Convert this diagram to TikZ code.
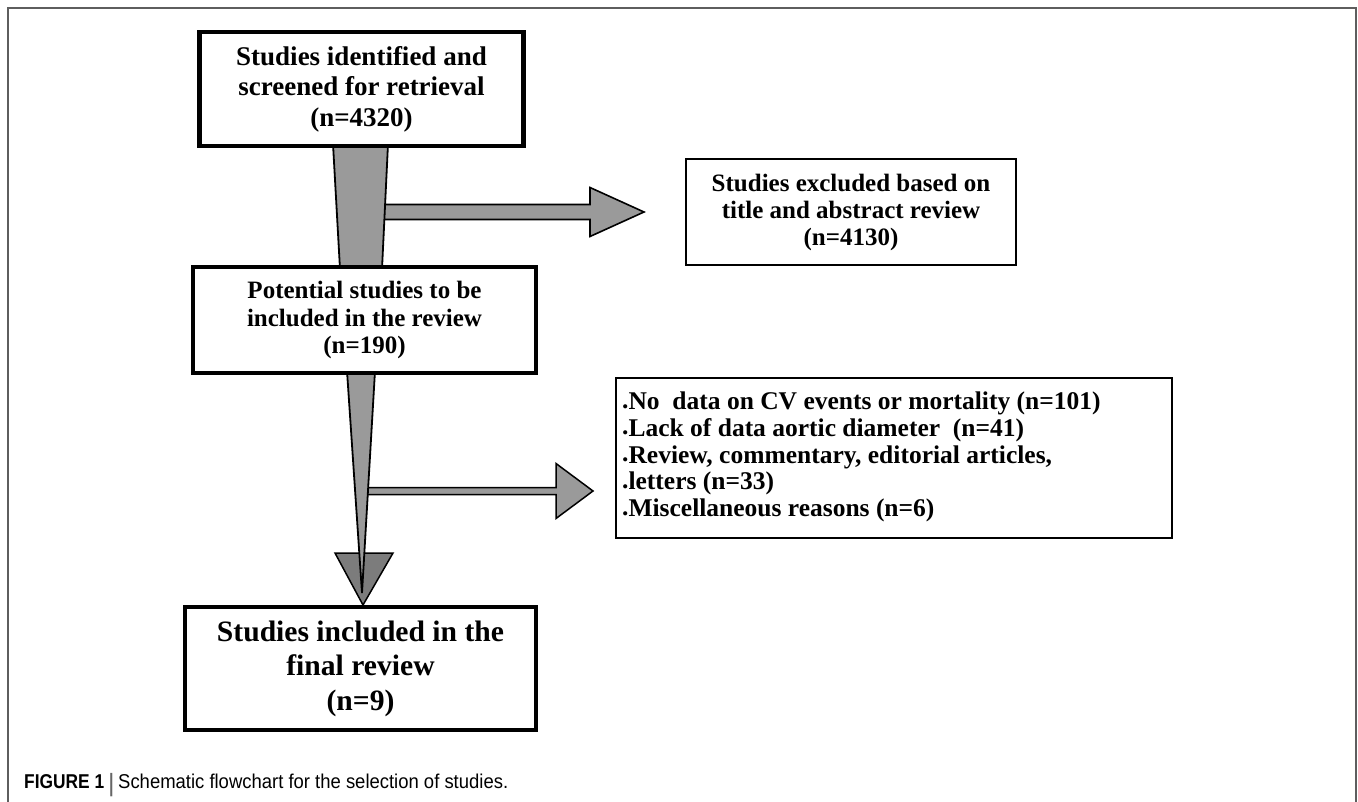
\documentclass[tikz,border=0pt]{standalone}
\usepackage{fontspec}
\setmainfont{Liberation Serif}
\newfontfamily\capfont{Liberation Sans}
\usetikzlibrary{calc}
\definecolor{arrowgray}{HTML}{9A9A9A}
\definecolor{headgray}{HTML}{7C7C7C}
\definecolor{framegray}{HTML}{5E5E5E}
\definecolor{captext}{HTML}{2A2A2A}
\pgfdeclarelayer{background}
\pgfsetlayers{background,main}
\newsavebox\capboxA
\newsavebox\capboxB
\newcommand\bdot{\raisebox{1.5pt}{.}}
\begin{document}
\sbox\capboxA{\capfont\fontsize{20}{22}\selectfont\textbf{FIGURE 1}}%
\sbox\capboxB{\capfont\fontsize{20}{22}\selectfont Schematic flowchart for the selection of studies.}%
\pgfmathsetmacro\capsxA{80/\the\wd\capboxA}%
\pgfmathsetmacro\capsxB{390/\the\wd\capboxB}%
\begin{tikzpicture}[x=1pt,y=-1pt,
  bigbox/.style={draw=black, fill=white, inner sep=0pt, outer sep=0pt, align=center},
  grayshape/.style={fill=arrowgray, draw=black, line width=1.8pt, line join=miter},
  captxt/.style={inner sep=0pt, anchor=base west, text=captext},
]
\useasboundingbox (0,0) rectangle (1358,802);
\draw[line width=1.5pt, draw=framegray] (8,802) -- (8,8) -- (1356,8) -- (1356,802);

% boxes
\node[bigbox, line width=4.5pt, minimum width=324pt, minimum height=114pt,
      font=\bfseries\fontsize{27}{30.5}\selectfont] (b1) at (361.5,89)
  {Studies identified and\\screened for retrieval\\(n=4320)};
\node[bigbox, line width=4pt, minimum width=343pt, minimum height=106pt,
      font=\bfseries\fontsize{25}{27.5}\selectfont] (b2) at (364.5,320)
  {Potential studies to be\\included in the review\\(n=190)};
\node[bigbox, line width=2pt, minimum width=330pt, minimum height=106pt,
      font=\bfseries\fontsize{25}{27}\selectfont] (b3) at (851,212)
  {Studies excluded based on\\title and abstract review\\(n=4130)};
\node[bigbox, line width=2pt, minimum width=556pt, minimum height=160pt] (lst) at (894,458) {};
\node[inner sep=0pt, anchor=west, align=left,
      font=\bfseries\fontsize{25.5}{26.8}\selectfont] (lsttext) at ($(lst.west)+(6,-1)$)
  {\bdot No\ \ data on CV events or mortality (n=101)\\
   \bdot Lack of data aortic diameter\ \ (n=41)\\
   \bdot Review, commentary, editorial articles,\\
   \bdot letters (n=33)\\
   \bdot Miscellaneous reasons (n=6)};
\node[bigbox, line width=4.5pt, minimum width=351pt, minimum height=123pt,
      font=\bfseries\fontsize{29.6}{34.5}\selectfont] (b4) at (360.5,668.5)
  {Studies included in the\\final review\\(n=9)};

% caption
\node[captxt] (capA) at (24,788) {\scalebox{\capsxA}[1]{\usebox\capboxA}};
\node[captxt, text=black!60, font=\capfont\fontsize{25}{26}\selectfont] (capbar) at (108,791) {|};
\node[captxt] (capB) at (118,788) {\scalebox{\capsxB}[1]{\usebox\capboxB}};

% connectors (behind boxes)
\coordinate (a1tip) at ($(b3.west)+(-42,0)$);
\coordinate (a2tip) at ($(lst.west)+(-23,33)$);
\coordinate (f2tip) at (362,593);
\coordinate (t2tip) at ($(b4.north)+(2.5,-2)$);
\begin{pgfonlayer}{background}
  % arrow 1
  \draw[grayshape, line width=1.6pt]
    ($(a1tip)+(-262,-7.5)$) -- ($(a1tip)+(-54,-7.5)$) -- ($(a1tip)+(-54,-24.5)$) --
    (a1tip) -- ($(a1tip)+(-54,24.5)$) -- ($(a1tip)+(-54,7.5)$) -- ($(a1tip)+(-262,7.5)$);
  % arrow 2
  \draw[grayshape, line width=1.5pt]
    ($(a2tip)+(-225,-3.5)$) -- ($(a2tip)+(-37,-3.5)$) -- ($(a2tip)+(-37,-27.5)$) --
    (a2tip) -- ($(a2tip)+(-37,27.5)$) -- ($(a2tip)+(-37,3.5)$) -- ($(a2tip)+(-225,3.5)$);
  % funnel 1
  \draw[grayshape]
    ($(b1.south)+(-28.5,-2)$) -- ($(b1.south)+(26.5,-2)$) --
    ($(b2.north)+(17.5,2)$) -- ($(b2.north)+(-24.5,2)$) -- cycle;
  % arrowhead at bottom
  \draw[fill=headgray, draw=black, line width=1.5pt, line join=miter]
    ($(t2tip)+(-28,-52)$) -- ($(t2tip)+(30,-52)$) -- (t2tip) -- cycle;
  % funnel 2
  \draw[grayshape, line width=1.8pt]
    ($(b2.south)+(-17.5,-2)$) -- ($(b2.south)+(10.5,-2)$) -- (f2tip) -- cycle;
\end{pgfonlayer}
\end{tikzpicture}
\end{document}
